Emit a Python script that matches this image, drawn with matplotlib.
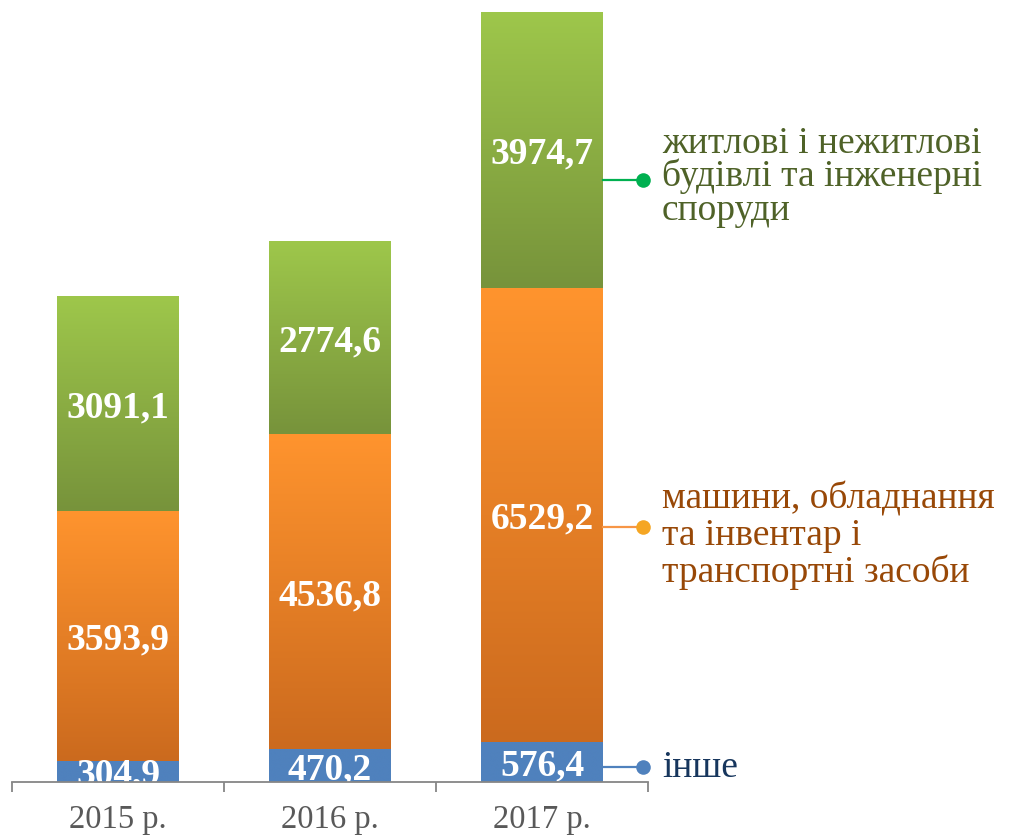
import numpy as np
import matplotlib
matplotlib.use("Agg")
import matplotlib.pyplot as plt
import matplotlib.transforms as mtransforms
from matplotlib.colors import to_rgb

# ---- data ----
years = ["2015 р.", "2016 р.", "2017 р."]
other = [304.9, 470.2, 576.4]
machines = [3593.9, 4536.8, 6529.2]
buildings = [3091.1, 2774.6, 3974.7]
labels_fmt = lambda v: f"{v:.1f}".replace(".", ",")

# ---- styling ----
W, H = 1025, 836
fig = plt.figure(figsize=(W / 100, H / 100), dpi=100)
ax = fig.add_axes([12 / W, 54 / H, 636 / W, 770 / H])

x = np.arange(len(years))
bw = 0.571
other_a = np.array(other)
mach_a = np.array(machines)
bld_a = np.array(buildings)
total = other_a + mach_a + bld_a

grad_specs = [
    (other_a, np.zeros(3), "#4F81BD", "#4F81BD"),
    (mach_a, other_a, "#FF942E", "#CB6A1E"),
    (bld_a, other_a + mach_a, "#9EC74B", "#77933B"),
]

for vals, bottoms, ctop, cbot in grad_specs:
    bars = ax.bar(x, vals, bw, bottom=bottoms, color=cbot, linewidth=0, zorder=2)
    t = np.linspace(0, 1, 256)[:, None]
    c1 = np.array(to_rgb(ctop))
    c2 = np.array(to_rgb(cbot))
    img = (c1[None, None, :] * (1 - t[:, :, None]) + c2[None, None, :] * t[:, :, None])
    for b in bars:
        x0, y0 = b.get_x(), b.get_y()
        ax.imshow(img, extent=(x0, x0 + b.get_width(), y0, y0 + b.get_height()),
                  aspect="auto", origin="upper", zorder=3, interpolation="bilinear")
    for b, v in zip(bars, vals):
        ax.text(b.get_x() + b.get_width() / 2, b.get_y() + b.get_height() / 2,
                labels_fmt(v), ha="center", va="center_baseline", color="white",
                fontsize=27, fontweight="bold", family="Liberation Serif",
                zorder=5, clip_on=True)

ax.set_xlim(-0.5, len(years) - 0.5)
ax.set_ylim(0, total.max())

# axes styling
for s in ["top", "right", "left"]:
    ax.spines[s].set_visible(False)
ax.spines["bottom"].set_color("#868686")
ax.spines["bottom"].set_linewidth(1.3)
ax.spines["bottom"].set_zorder(6)
ax.set_yticks([])
ax.set_xticks(np.arange(len(years) + 1) - 0.5)
ax.set_xticklabels([])
ax.tick_params(axis="x", which="major", length=7, width=1.3, color="#868686")
ax.set_xticks(x, minor=True)
ax.set_xticklabels(years, minor=True, fontsize=23.5, family="Liberation Serif",
                   color="#595959")
ax.tick_params(axis="x", which="minor", length=0, pad=16)

# leader lines + labels (legend)
trans = mtransforms.blended_transform_factory(ax.transData, ax.transAxes)
xdot = 2.476
leader = [
    (0.7818, "#00B050", "#00B050"),
    (0.3312, "#F79646", "#F5A623"),
    (0.0195, "#4F81BD", "#4F81BD"),
]
for yy, lc, dc in leader:
    ax.plot([x[-1] + bw / 2, xdot], [yy, yy], color=lc, lw=1.6, transform=trans,
            clip_on=False, zorder=4)
    ax.plot([xdot], [yy], "o", color=dc, ms=10.5, transform=trans, clip_on=False,
            zorder=4, markeredgewidth=0)

text_specs = [
    ("житлові і нежитлові", 153, "#4F6228"),
    ("будівлі та інженерні", 186.5, "#4F6228"),
    ("споруди", 220, "#4F6228"),
    ("машини, обладнання", 509, "#984807"),
    ("та інвентар і", 545, "#984807"),
    ("транспортні засоби", 581.5, "#984807"),
    ("інше", 777, "#17365D"),
]
for txt, base_px, col in text_specs:
    fig.text(662 / W, 1 - base_px / H, txt, ha="left", va="baseline", color=col,
             fontsize=27, family="Liberation Serif")

fig.savefig("out.png", dpi=100)
